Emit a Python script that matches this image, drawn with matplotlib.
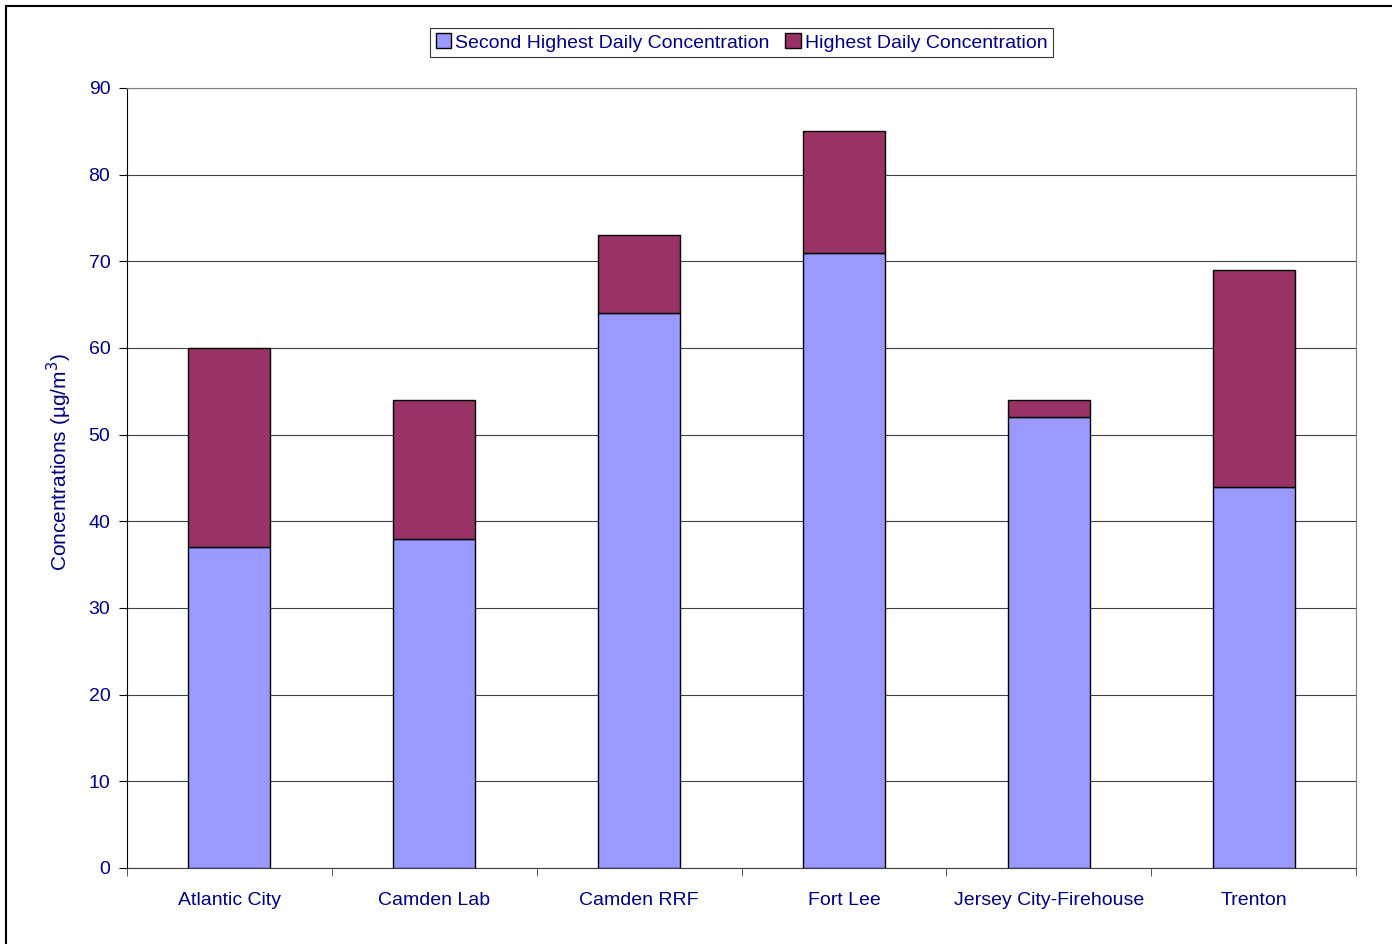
import matplotlib
matplotlib.use("Agg")
import matplotlib.pyplot as plt
from matplotlib.patches import Rectangle
import numpy as np

plt.rcParams['font.family'] = ['Liberation Sans', 'DejaVu Sans']

sites = ['Atlantic City', 'Camden Lab', 'Camden RRF', 'Fort Lee',
         'Jersey City-Firehouse', 'Trenton']
second_highest = [37, 38, 64, 71, 52, 44]
highest = [60, 54, 73, 85, 54, 69]

navy = '#000080'

fig = plt.figure(figsize=(13.92, 9.44), dpi=100)
ax = fig.add_axes([127 / 1392, 1 - 868 / 944, 1229 / 1392, 780 / 944])

x = np.arange(len(sites))
diff = [h - s for h, s in zip(highest, second_highest)]
b1 = ax.bar(x, second_highest, width=0.4, color='#9999FF', edgecolor='black', linewidth=1, zorder=3)
b2 = ax.bar(x, diff, bottom=second_highest, width=0.4, color='#993366', edgecolor='black', linewidth=1, zorder=3)

ax.set_xlim(-0.5, len(sites) - 0.5)
ax.set_ylim(0, 90)
ax.set_yticks(range(0, 91, 10))
ax.yaxis.grid(True, color='#404040', linewidth=0.8, zorder=0)
ax.set_xticks(x)
ax.set_xticklabels(sites, color=navy, fontsize=14)
ax.set_xticks(np.arange(-0.5, len(sites), 1), minor=True)
ax.tick_params(axis='x', which='major', length=0, pad=17)
ax.tick_params(axis='x', which='minor', length=6, color='#404040')
ax.tick_params(axis='y', labelcolor=navy, labelsize=14, length=6, pad=6)

for s in ['top', 'right']:
    ax.spines[s].set_color('#808080')
ax.spines['left'].set_color('black')
ax.spines['bottom'].set_color('#404040')

ax.set_ylabel('Concentrations (\u00b5g/m$^3$)', color=navy, fontsize=15)
ax.yaxis.set_label_coords(-0.043, 0.52)

leg = ax.legend([b1, b2], ['Second Highest Daily Concentration', 'Highest Daily Concentration'],
                loc='upper center', bbox_to_anchor=(0.5, 1.09), ncol=2, fancybox=False,
                edgecolor='black', fontsize=14, handlelength=0.8, handleheight=0.8,
                handletextpad=0.2, columnspacing=0.8, borderpad=0.3, labelcolor=navy)
leg.get_frame().set_linewidth(0.8)

fig.patches.append(Rectangle((6 / 1392, -0.1), 1.2, 1.1 - 6 / 944, transform=fig.transFigure,
                             fill=False, edgecolor='black', linewidth=1.5))

fig.savefig('out.png', dpi=100)
